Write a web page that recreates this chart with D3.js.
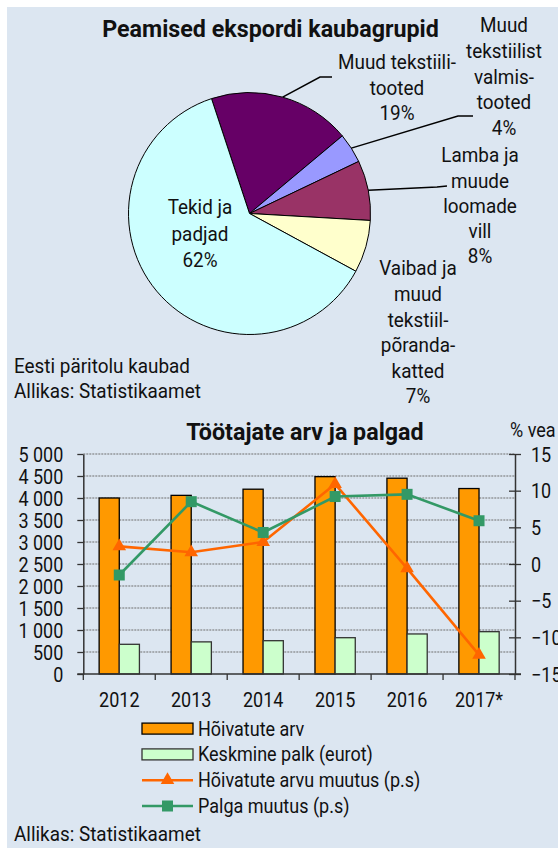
<!DOCTYPE html>
<html>
<head>
<meta charset="utf-8">
<script src="https://cdn.jsdelivr.net/npm/d3@7"></script>
<style>
  body { margin: 0; background: #fff; }
  text { font-family: Roboto, "Noto Sans", sans-serif; fill: #111; }
</style>
</head>
<body>
<svg id="chart" width="558" height="848"></svg>
<script>
// pie data
var pieNames = [
  ["Muud tekstiili-", "tooted"],
  ["Muud", "tekstiilist", "valmis-", "tooted"],
  ["Lamba ja", "muude", "loomade", "vill"],
  ["Vaibad ja", "muud", "tekstiil-", "põranda-", "katted"],
  ["Tekid ja", "padjad"]
];
var pieShares = [19, 4, 8, 7, 62];

// bar/line data
var years = ["2012", "2013", "2014", "2015", "2016", "2017*"];
var employed = [4000, 4060, 4200, 4485, 4450, 4215];
var avgWage = [675, 730, 757, 825, 910, 962];
var employedChange = [2.4, 1.6, 3.0, 10.9, -0.6, -12.4];
var wageChange = [-1.5, 8.5, 4.3, 9.2, 9.5, 5.9];
var leftTicks = [0, 500, 1000, 1500, 2000, 2500, 3000, 3500, 4000, 4500, 5000];
var rightTicks = [-15, -10, -5, 0, 5, 10, 15];
var legendNames = ["Hõivatute arv", "Keskmine palk (eurot)", "Hõivatute arvu muutus (p.s)", "Palga muutus (p.s)"];

var pieColors = ["#660066", "#9999ff", "#993366", "#ffffcc", "#ccffff"];
var SX = 0.9; // narrow the font a bit (condensed look)

var svg = d3.select("#chart");
svg.append("rect").attr("x", 7).attr("y", 7).attr("width", 551).attr("height", 841).attr("fill", "#dce6f1");

function label(g, x, y, s, size, anchor, weight, sx) {
  return g.append("text")
    .attr("transform", "translate(" + x + "," + y + ") scale(" + (sx || SX) + ",1)")
    .attr("text-anchor", anchor || "middle")
    .attr("dy", "0.35em")
    .style("font-size", size + "px")
    .style("font-weight", weight || 400)
    .text(s);
}

// ---------- pie ----------
var cx = 249.5, cy = 213.5, R = 121;
var start = -18.3 * Math.PI / 180;
var pie = d3.pie().sort(null).startAngle(start).endAngle(start + 2 * Math.PI);
var arc = d3.arc().innerRadius(0).outerRadius(R);
var arcs = pie(pieShares);

label(svg, 270.5, 29, "Peamised ekspordi kaubagrupid", 24, "middle", 700, 0.97);

var pg = svg.append("g").attr("transform", "translate(" + cx + "," + cy + ")");
pg.selectAll("path").data(arcs).enter().append("path")
  .attr("d", arc)
  .attr("fill", (d, i) => pieColors[i])
  .attr("stroke", "#000").attr("stroke-width", 1);

// label blocks: centre x, first line y, line step; leader elbow points
var labelPos = [
  { x: 397, y: 62, step: 25.5, elbow: [[320, 77], [332, 77]] },
  { x: 504, y: 25, step: 25.7, elbow: [[458, 116], [473, 116]] },
  { x: 480, y: 155, step: 25.25, elbow: [[437, 187], [447, 186]] },
  { x: 418, y: 268, step: 25.6, elbow: null },
  { x: 200, y: 207, step: 26.5, elbow: null }
];

arcs.forEach(function(a, i) {
  var p = labelPos[i];
  var lines = pieNames[i].concat([pieShares[i] + "%"]);
  lines.forEach(function(s, j) { label(svg, p.x, p.y + j * p.step, s, 21); });
  if (p.elbow) {
    var mid = (a.startAngle + a.endAngle) / 2;
    var pts = [[cx + R * Math.sin(mid), cy - R * Math.cos(mid)]].concat(p.elbow);
    svg.append("path").attr("d", d3.line()(pts)).attr("fill", "none").attr("stroke", "#000").attr("stroke-width", 1.5);
  }
});

label(svg, 14, 366, "Eesti päritolu kaubad", 21, "start");
label(svg, 14, 391, "Allikas: Statistikaamet", 21, "start");

// ---------- bars + lines ----------
var x0 = 83.3, x1 = 515, yTop = 454, yBot = 674;
var x = d3.scaleBand().domain(years).range([x0, x1]);
var yL = d3.scaleLinear().domain([0, 5000]).range([yBot, yTop]);
var yR = d3.scaleLinear().domain([-15, 15]).range([yBot, yTop]);
var bw = x.bandwidth() * 0.28;
var fmt = d3.formatLocale({ decimal: ",", thousands: " ", grouping: [3], currency: ["", ""] }).format(",d");

label(svg, 305, 432, "Töötajate arv ja palgad", 24, "middle", 700, 0.97);
label(svg, 510, 430, "% vea", 20, "start");

// grid
svg.append("g").selectAll("line").data(leftTicks.filter(d => d > 0)).enter().append("line")
  .attr("x1", x0).attr("x2", x1)
  .attr("y1", d => yL(d)).attr("y2", d => yL(d))
  .attr("stroke", "#6e6e6e").attr("stroke-width", 1.2).attr("stroke-dasharray", "2,1");

// bars
var bars = svg.append("g");
bars.selectAll(".emp").data(employed).enter().append("rect")
  .attr("x", (d, i) => x(years[i]) + x.bandwidth() / 2 - bw)
  .attr("y", d => yL(d)).attr("width", bw).attr("height", d => yBot - yL(d))
  .attr("fill", "#ff9900").attr("stroke", "#000").attr("stroke-width", 1.3);
bars.selectAll(".wage").data(avgWage).enter().append("rect")
  .attr("x", (d, i) => x(years[i]) + x.bandwidth() / 2)
  .attr("y", d => yL(d)).attr("width", bw).attr("height", d => yBot - yL(d))
  .attr("fill", "#ccffcc").attr("stroke", "#333").attr("stroke-width", 1.3);

// axes
var axL = svg.append("g").attr("transform", "translate(" + x0 + ",0)")
  .call(d3.axisLeft(yL).tickValues(leftTicks).tickSize(6).tickSizeOuter(0).tickFormat(fmt));
axL.selectAll(".tick text").attr("x", 0).attr("dy", "0.35em")
  .attr("transform", "translate(-20,0) scale(" + SX + ",1)").style("font-size", "20px");

var axR = svg.append("g").attr("transform", "translate(" + x1 + ",0)")
  .call(d3.axisRight(yR).tickValues(rightTicks).tickSize(6).tickSizeOuter(0));
axR.selectAll(".tick line").attr("x1", -6).attr("x2", 6);
axR.selectAll(".tick text").attr("x", 0).attr("dy", "0.35em")
  .attr("transform", "translate(16,0) scale(" + SX + ",1)").style("font-size", "20px");

var axB = svg.append("g").attr("transform", "translate(0," + yBot + ")")
  .call(d3.axisBottom(x).tickSize(0).tickSizeOuter(0));
axB.select(".domain").remove();
axB.selectAll(".tick text").attr("y", 0).attr("dy", "0.35em")
  .attr("transform", "translate(0,26) scale(" + SX + ",1)").style("font-size", "20px");
var bounds = years.map(c => x(c)).concat([x1]);
axB.selectAll(".bt").data(bounds).enter().append("line")
  .attr("x1", d => d).attr("x2", d => d).attr("y1", 0).attr("y2", 6).attr("stroke", "#333").attr("stroke-width", 1.3);
axB.append("line").attr("x1", x0 - 6).attr("x2", x1 + 6).attr("stroke", "#333").attr("stroke-width", 1.5);

[axL, axR].forEach(function(a) {
  a.select(".domain").attr("stroke", "#333").attr("stroke-width", 1.5);
  a.selectAll(".tick line").attr("stroke", "#333").attr("stroke-width", 1.3);
  a.selectAll("text").attr("fill", "#111");
});

// lines
var cxOf = i => x(years[i]) + x.bandwidth() / 2;
var lineR = d3.line().x((d, i) => cxOf(i)).y(d => yR(d));
var series = [
  { vals: employedChange, color: "#ff6600", sym: d3.symbolTriangle, size: 80 },
  { vals: wageChange, color: "#339966", sym: d3.symbolSquare, size: 121 }
];
series.forEach(function(s) {
  svg.append("path").attr("d", lineR(s.vals)).attr("fill", "none")
    .attr("stroke", s.color).attr("stroke-width", 2.6);
  svg.append("g").selectAll("path").data(s.vals).enter().append("path")
    .attr("d", d3.symbol().type(s.sym).size(s.size))
    .attr("transform", (d, i) => "translate(" + cxOf(i) + "," + yR(d) + ")")
    .attr("fill", s.color);
});

// legend
var lg = svg.append("g");
var lx = 142, ly = 728.6, lstep = 25.8;
lg.append("rect").attr("x", lx).attr("y", ly - 5.5).attr("width", 51).attr("height", 11)
  .attr("fill", "#ff9900").attr("stroke", "#000").attr("stroke-width", 1.3);
lg.append("rect").attr("x", lx).attr("y", ly + lstep - 5.5).attr("width", 51).attr("height", 11)
  .attr("fill", "#ccffcc").attr("stroke", "#333").attr("stroke-width", 1.3);
series.forEach(function(s, k) {
  var yy = ly + (k + 2) * lstep;
  lg.append("line").attr("x1", lx).attr("x2", lx + 51).attr("y1", yy).attr("y2", yy)
    .attr("stroke", s.color).attr("stroke-width", 2.6);
  lg.append("path").attr("d", d3.symbol().type(s.sym).size(s.size))
    .attr("transform", "translate(" + (lx + 25.5) + "," + yy + ")").attr("fill", s.color);
});
legendNames.forEach(function(n, k) { label(lg, 198, ly + k * lstep, n, 20, "start"); });

label(svg, 14, 834, "Allikas: Statistikaamet", 21, "start");
</script>
</body>
</html>
